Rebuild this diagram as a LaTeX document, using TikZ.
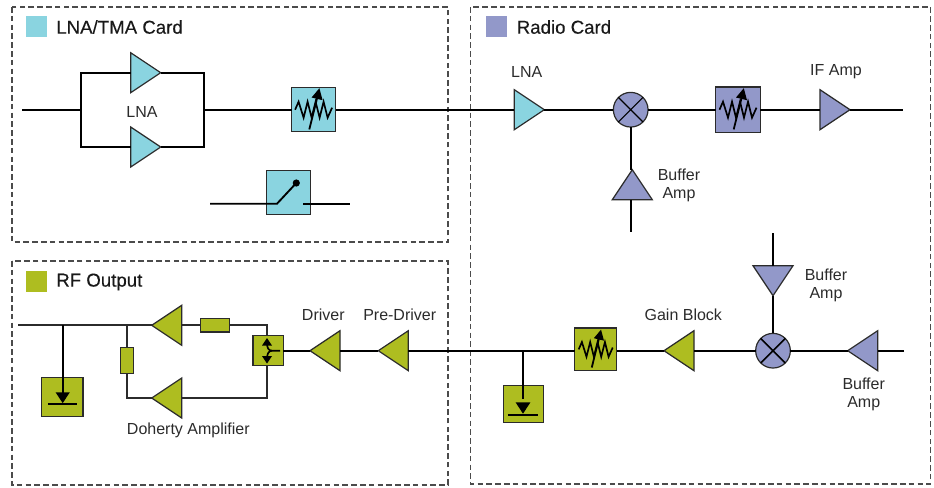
\documentclass[tikz,border=0pt]{standalone}
\usepackage{fontspec}
\setmainfont{Liberation Sans}
\newfontfamily\titlefont[FakeBold=0.25]{Liberation Sans}
\usetikzlibrary{shapes.geometric,calc}
\definecolor{teal}{HTML}{8AD4E0}
\definecolor{lav}{HTML}{9298C9}
\definecolor{olive}{HTML}{AEBD20}
\definecolor{ink}{HTML}{2B2B2B}
\tikzset{
  x=0.75pt,y=-0.75pt,
  wire/.style={line width=1.4pt,black,line cap=butt,line join=miter},
  thinwire/.style={line width=1.25pt,ink,line join=miter},
  card/.style={line width=0.85pt,ink!85,dash pattern=on 4.2pt off 2.4pt},
  legend/.style={draw=none,inner sep=0pt,minimum size=15.75pt,outer sep=0pt},
  title/.style={font=\titlefont\fontsize{14}{15}\selectfont,text=black!90,anchor=west,inner sep=0pt},
  lab/.style={font=\fontsize{12}{13.5}\selectfont,text=ink,align=center,inner sep=0pt},
  amp/.style={shape=isosceles triangle,isosceles triangle stretches,draw=ink,line width=0.9pt,inner sep=0pt,outer sep=0pt,
    minimum width=30pt,minimum height=22.5pt},
  ampR/.style={amp,shape border rotate=0,anchor=apex},
  ampL/.style={amp,shape border rotate=180,anchor=apex},
  ampU/.style={amp,shape border rotate=90,anchor=apex},
  ampD/.style={amp,shape border rotate=270,anchor=apex},
  blk/.style={rectangle,draw=ink,line width=0.9pt,inner sep=0pt,outer sep=0pt},
  mix/.style={circle,draw=ink,fill=lav,line width=0.9pt,inner sep=0pt,outer sep=0pt,minimum size=26pt},
  pics/tune/.style={code={
    \draw[line width=1.25pt,black,line join=miter] (-18.5,0)--(-15,-8)--(-10,8)--(-6,-8)--(-2,8)--(2,-8)--(6,8)--(10,-8)--(14,8)--(18.5,-2);
    \draw[line width=1.35pt,black] (-4.3,19.7)--(3.6,-12);
    \fill[black] (5.8,-21.5)--(9,-9.5)--(-2,-12.2)--cycle;
  }},
  pics/ground/.style={code={
    \fill[black] (-7.5,-11)--(7.5,-11)--(0,0.5)--cycle;
    \draw[line width=1.25pt,black] (-15.5,1.5)--(15.5,1.5);
  }}
}
\begin{document}
\begin{tikzpicture}
\useasboundingbox (0,0) rectangle (934,487);
% cards
\draw[card] (12,7) rectangle (448,242);
\draw[card] (12,261) rectangle (448,485);
\draw[card] (470.5,7) rectangle (930.5,484);
% legends
\node[legend,fill=teal] (legA) at (36.5,26.5) {};
\node[legend,fill=olive] (legB) at (36.5,281) {};
\node[legend,fill=lav] (legC) at (496.5,26.5) {};
\node[title] (tA) at (56,27) {LNA/TMA Card};
\node[title] (tB) at (56,282) {RF Output};
\node[title] (tC) at (516.5,27) {Radio Card};
% LNA/TMA card
\coordinate (inA) at (22,109.7);
\coordinate (forkL) at (81,109.7);
\coordinate (forkR) at (203.7,109.7);
\node[ampR,fill=teal] (a1) at (160.7,72.7) {};
\node[ampR,fill=teal] (a2) at (160.7,147) {};
\node[blk,fill=teal,minimum width=33pt,minimum height=33pt] (tuneA) at (313.6,109.7) {};
\pic at (tuneA) {tune};
\node[blk,fill=teal,minimum width=33pt,minimum height=33pt] (sw) at (288.2,192.7) {};
\coordinate (swL) at (210,203.7);
\coordinate (swM) at (277,203.7);
\node[circle,fill=black,inner sep=0pt,minimum size=5.4pt] (swD) at (296.3,183) {};
\coordinate (swR) at (303,203.7);
\coordinate (swE) at (350,203.7);
\node[lab] (lLNA1) at (142,112) {LNA};
% Radio card, upper
\node[ampR,fill=teal] (a3) at (544.3,109.7) {};
\node[mix] (m1) at (630.7,109.7) {};
\node[blk,fill=lav,minimum width=33.5pt,minimum height=34pt] (tuneB) at (738,109.7) {};
\pic at (tuneB) {tune};
\node[ampR,fill=lav] (a4) at (850,109.7) {};
\coordinate (endB) at (902.7,109.7);
\node[ampU,fill=lav] (a5) at (632.3,169.7) {};
\coordinate (b5) at (630.7,232.3);
\node[lab] (lLNA2) at (526.7,71.5) {LNA};
\node[lab] (lIF) at (836,72) {IF Amp};
\node[lab] (lB1) at (679,185) {Buffer\\Amp};
% Radio card, lower
\coordinate (t6) at (773,233.3);
\node[ampD,fill=lav] (a6) at (773,295.7) {};
\node[mix] (m2) at (773,350.7) {};
\node[ampL,fill=lav] (a7) at (847.7,350.7) {};
\coordinate (endC) at (904,350.7);
\node[lab] (lB2) at (826,285) {Buffer\\Amp};
\node[lab] (lB3) at (863.7,394) {Buffer\\Amp};
\node[lab] (lGain) at (683.3,315) {Gain Block};
\node[ampL,fill=olive] (a8) at (664,350.7) {};
\node[blk,fill=olive,minimum width=31.5pt,minimum height=32pt] (tuneC) at (595.7,349.4) {};
\pic[scale=0.92] at (tuneC) {tune};
\coordinate (tapR) at (523,350.7);
\node[blk,fill=olive,minimum width=30pt,minimum height=28pt] (gndR) at (523.7,404) {};
\pic[scale=0.98] at (523,413.2) {ground};
% RF output
\node[ampL,fill=olive] (a9) at (378.3,350.7) {};
\node[ampL,fill=olive] (a10) at (310,350.7) {};
\node[blk,fill=olive,minimum width=22.75pt,minimum height=22.75pt] (split) at (268.2,350.7) {};
\node[ampL,fill=olive] (a11) at (151.7,325.3) {};
\node[ampL,fill=olive] (a12) at (151.7,398) {};
\node[blk,fill=olive,minimum width=21.5pt,minimum height=10pt] (rH) at (215,325.3) {};
\node[blk,fill=olive,minimum width=10pt,minimum height=19.5pt] (rV) at (127,360.5) {};
\node[blk,fill=olive,minimum width=31.25pt,minimum height=29pt] (gndL) at (62.2,397) {};
\pic[scale=0.95] at (62.7,402.7) {ground};
\coordinate (outL) at (18,325.3);
\coordinate (tapL) at (62.7,325.3);
\coordinate (tapM) at (127,325.3);
\coordinate (cTop) at (266.7,325.3);
\coordinate (cBot) at (266.7,398);
\coordinate (cLeft) at (127,398);
\node[lab] (lDriver) at (323.3,315) {Driver};
\node[lab] (lPre) at (399.7,315) {Pre-Driver};
\node[lab] (lDoh) at (188.3,430) {Doherty Amplifier};
% connectors
\draw[wire] (inA) -- (forkL);
\draw[wire] (a1.lower side) -| (forkL) |- (a2.lower side);
\draw[wire] (a1.apex) -| (forkR) |- (a2.apex);
\draw[wire] (forkR) -- (tuneA.west);
\draw[wire] (tuneA.east) -- (a3.lower side);
\draw[wire] (swL) -- (swM) -- (swD.center);
\draw[wire] (swR) -- (swE);
\draw[wire] (a3.apex) -- (m1.west);
\draw[wire] (m1.east) -- (tuneB.west);
\draw[wire] (tuneB.east) -- (a4.lower side);
\draw[wire] (a4.apex) -- (endB);
\draw[wire] (m1.south) -- (m1.south |- a5.apex);
\draw[wire] (b5 |- a5.lower side) -- (b5);
\draw[line width=0.8pt,black] (m1.45) -- (m1.225) (m1.135) -- (m1.315);
\draw[wire] (t6) -- (a6.lower side);
\draw[wire] (a6.apex) -- (m2.north);
\draw[wire] (endC) -- (a7.lower side);
\draw[wire] (a7.apex) -- (m2.east);
\draw[line width=1.2pt,black] (m2.45) -- (m2.225) (m2.135) -- (m2.315);
\draw[wire] (m2.west) -- (a8.lower side);
\draw[wire] (a8.apex) -- (tuneC.east |- a8.apex);
\draw[wire] (tuneC.west |- tapR) -- (a9.lower side);
\draw[wire] (tapR) -- (523,399);
\draw[wire] (a9.apex) -- (a10.lower side);
\draw[wire] (a10.apex) -- (split.east);
\draw[thinwire] (rH.west) -- (a11.lower side);
\draw[thinwire] (rH.east) -- (cTop) -- (split.north -| cTop);
\draw[thinwire] (split.south -| cBot) -- (cBot) -- (a12.lower side);
\draw[thinwire] (a12.apex) -- (cLeft) -- (rV.south);
\draw[thinwire] (rV.north) -- (tapM);
\draw[thinwire] (outL) -- (a11.apex);
\draw[wire] (tapL) -- (62.7,393);
% splitter symbol
\draw[line width=1.25pt,black] (280,350.7) -- (272,350.7) .. controls (268,350.7) and (267,347) .. (267,343);
\draw[line width=1.25pt,black] (272,350.7) .. controls (268,350.7) and (267,355) .. (267,359);
\fill[black] (267,338) -- (272,345.5) -- (262,345.5) -- cycle;
\fill[black] (267,363.5) -- (272,356) -- (262,356) -- cycle;
\end{tikzpicture}
\end{document}
